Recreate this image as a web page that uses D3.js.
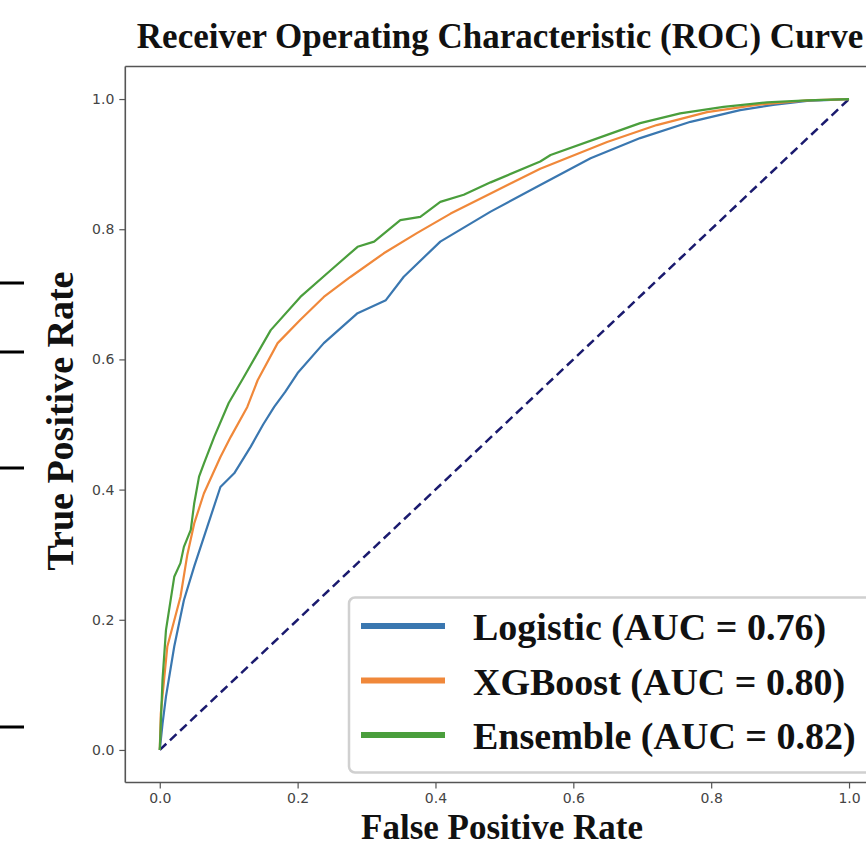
<!DOCTYPE html>
<html>
<head>
<meta charset="utf-8">
<script src="https://cdn.jsdelivr.net/npm/d3@7"></script>
<style>
  html, body { margin: 0; padding: 0; background: #fff; overflow: hidden; }
  svg { display: block; }
</style>
</head>
<body>
<svg id="chart" width="866" height="849"></svg>
<script>
// ---- data ----
const seriesNames = ["Logistic", "XGBoost", "Ensemble"];
const aucValues = [0.76, 0.80, 0.82];
const seriesColors = ["#3a77b0", "#f0883a", "#4a9e3c"];

const logisticFpr = [0, 0.004, 0.009, 0.021, 0.035, 0.050, 0.069, 0.088, 0.108, 0.132, 0.150, 0.166, 0.182, 0.200, 0.238, 0.287, 0.328, 0.354, 0.407, 0.480, 0.552, 0.625, 0.697, 0.770, 0.842, 0.890, 0.939, 1.0];
const logisticTpr = [0, 0.040, 0.082, 0.159, 0.230, 0.282, 0.343, 0.404, 0.425, 0.466, 0.500, 0.527, 0.550, 0.579, 0.625, 0.671, 0.691, 0.727, 0.781, 0.827, 0.868, 0.909, 0.940, 0.965, 0.983, 0.991, 0.997, 1.0];

const xgbFpr = [0, 0.0015, 0.011, 0.030, 0.040, 0.050, 0.064, 0.088, 0.103, 0.127, 0.142, 0.171, 0.204, 0.238, 0.277, 0.325, 0.373, 0.422, 0.480, 0.552, 0.649, 0.721, 0.794, 0.866, 0.939, 1.0];
const xgbTpr = [0, 0.056, 0.159, 0.235, 0.300, 0.348, 0.394, 0.450, 0.481, 0.527, 0.568, 0.625, 0.661, 0.696, 0.727, 0.763, 0.794, 0.824, 0.855, 0.893, 0.934, 0.960, 0.980, 0.991, 0.998, 1.0];

const ensembleFpr = [0, 0.004, 0.009, 0.021, 0.030, 0.035, 0.045, 0.050, 0.057, 0.064, 0.079, 0.100, 0.122, 0.161, 0.204, 0.248, 0.287, 0.311, 0.349, 0.378, 0.407, 0.441, 0.480, 0.552, 0.567, 0.649, 0.697, 0.755, 0.818, 0.881, 0.939, 1.0];
const ensembleTpr = [0, 0.108, 0.184, 0.266, 0.287, 0.312, 0.338, 0.379, 0.420, 0.440, 0.481, 0.533, 0.573, 0.645, 0.696, 0.737, 0.773, 0.781, 0.814, 0.819, 0.842, 0.853, 0.872, 0.904, 0.914, 0.945, 0.963, 0.978, 0.988, 0.995, 0.998, 1.0];

const chanceLine = [0, 1];
const tickValues = [0.0, 0.2, 0.4, 0.6, 0.8, 1.0];

const titleText = "Receiver Operating Characteristic (ROC) Curve";
const xLabelText = "False Positive Rate";
const yLabelText = "True Positive Rate";

// ---- layout ----
const svg = d3.select("#chart");
const serif = "'Liberation Serif', 'Times New Roman', Times, serif";
const sans = "'DejaVu Sans', sans-serif";

const plotLeft = 125.3, plotRight = 883.5, plotTop = 66.5, plotBottom = 782.5;
const x = d3.scaleLinear().domain([-0.05, 1.05]).range([plotLeft, plotRight]);
const y = d3.scaleLinear().domain([-0.05, 1.05]).range([plotBottom, plotTop]);

// stray marks at the left edge
[283, 352, 468, 727].forEach(py => {
  svg.append("line").attr("x1", 0).attr("x2", 24).attr("y1", py).attr("y2", py)
    .attr("stroke", "#000").attr("stroke-width", 3);
});

// title
svg.append("text").attr("x", 500).attr("y", 48)
  .attr("text-anchor", "middle")
  .style("font-family", serif).style("font-weight", "bold").style("font-size", "35px")
  .attr("fill", "#111").text(titleText);

// diagonal chance line
svg.append("line")
  .attr("x1", x(chanceLine[0])).attr("y1", y(chanceLine[0]))
  .attr("x2", x(chanceLine[1])).attr("y2", y(chanceLine[1]))
  .attr("stroke", "#1a1a6e").attr("stroke-width", 2.5)
  .attr("stroke-dasharray", "9,5");

// curves
const curves = [
  { fpr: logisticFpr, tpr: logisticTpr },
  { fpr: xgbFpr, tpr: xgbTpr },
  { fpr: ensembleFpr, tpr: ensembleTpr }
];
const line = d3.line().x(d => x(d[0])).y(d => y(d[1]));
curves.forEach((c, i) => {
  const pts = c.fpr.map((f, j) => [f, c.tpr[j]]);
  svg.append("path").datum(pts)
    .attr("d", line)
    .attr("fill", "none")
    .attr("stroke", seriesColors[i])
    .attr("stroke-width", 2.2)
    .attr("stroke-linejoin", "round");
});

// axes
const fmt = d3.format(".1f");
const yAxis = svg.append("g").attr("transform", `translate(${plotLeft},0)`)
  .call(d3.axisLeft(y).tickValues(tickValues).tickFormat(fmt).tickSize(6).tickSizeOuter(0).tickPadding(5));
const xAxis = svg.append("g").attr("transform", `translate(0,${plotBottom})`)
  .call(d3.axisBottom(x).tickValues(tickValues).tickFormat(fmt).tickSize(6).tickSizeOuter(0).tickPadding(5));
[yAxis, xAxis].forEach(g => {
  g.select(".domain").remove();
  g.selectAll(".tick line").attr("stroke", "#555").attr("stroke-width", 1.2);
  g.selectAll(".tick text").attr("fill", "#444")
    .style("font-family", sans).style("font-size", "14px");
});

// spines
const spine = svg.append("g").attr("stroke", "#555").attr("stroke-width", 1.6).attr("fill", "none");
spine.append("line").attr("x1", plotLeft).attr("x2", plotLeft).attr("y1", plotTop).attr("y2", plotBottom);
spine.append("line").attr("x1", plotLeft).attr("x2", plotRight).attr("y1", plotTop).attr("y2", plotTop);
spine.append("line").attr("x1", plotLeft).attr("x2", plotRight).attr("y1", plotBottom).attr("y2", plotBottom);
spine.append("line").attr("x1", plotRight).attr("x2", plotRight).attr("y1", plotTop).attr("y2", plotBottom);

// axis labels
svg.append("text").attr("x", 502).attr("y", 839)
  .attr("text-anchor", "middle")
  .style("font-family", serif).style("font-weight", "bold").style("font-size", "35px")
  .attr("fill", "#111").text(xLabelText);
svg.append("text")
  .attr("transform", "translate(73,421) rotate(-90)")
  .attr("text-anchor", "middle")
  .style("font-family", serif).style("font-weight", "bold").style("font-size", "38px")
  .attr("fill", "#111").text(yLabelText);

// legend
const lg = svg.append("g");
lg.append("rect").attr("x", 349).attr("y", 597.5).attr("width", 560).attr("height", 175)
  .attr("rx", 6).attr("ry", 6)
  .attr("fill", "rgba(255,255,255,0.85)").attr("stroke", "#d0d0d0").attr("stroke-width", 2.5);
const rowY = [626, 680.5, 735];
seriesNames.forEach((name, i) => {
  lg.append("line").attr("x1", 361).attr("x2", 445).attr("y1", rowY[i]).attr("y2", rowY[i])
    .attr("stroke", seriesColors[i]).attr("stroke-width", 6);
  lg.append("text").attr("x", 473).attr("y", rowY[i] + 14)
    .style("font-family", serif).style("font-weight", "bold").style("font-size", "38px")
    .attr("fill", "#111")
    .text(`${name} (AUC = ${d3.format(".2f")(aucValues[i])})`);
});
</script>
</body>
</html>
